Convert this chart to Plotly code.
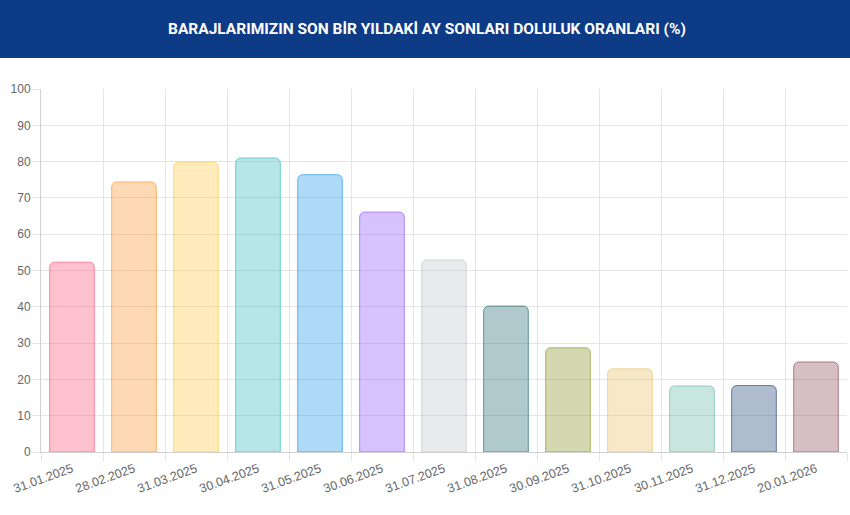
import plotly.graph_objects as go

dates = ["31.01.2025", "28.02.2025", "31.03.2025", "30.04.2025", "31.05.2025",
         "30.06.2025", "31.07.2025", "31.08.2025", "30.09.2025", "31.10.2025",
         "30.11.2025", "31.12.2025", "20.01.2026"]
values = [52.3, 74.4, 79.9, 81.0, 76.4, 66.1, 52.9, 40.2, 28.7, 22.9, 18.2, 18.3, 24.8]
base_colors = [(255, 99, 132), (255, 159, 64), (255, 205, 86), (75, 192, 192),
               (54, 162, 235), (153, 102, 255), (201, 203, 207), (58, 120, 127),
               (145, 157, 58), (235, 200, 117), (117, 192, 170), (55, 87, 130),
               (152, 92, 110)]
y_ticks = [0, 10, 20, 30, 40, 50, 60, 70, 80, 90, 100]
title_text = "BARAJLARIMIZIN SON BİR YILDAKİ AY SONLARI DOLULUK ORANLARI (%)"

fills = ["rgba(%d,%d,%d,0.4)" % c for c in base_colors]
borders = ["rgba(%d,%d,%d,0.75)" % c for c in base_colors]

W, H = 850, 515
top, bottom, left, right = 89, 63, 41, 3
plot_h = H - top - bottom
plot_w = W - left - right

fig = go.Figure(go.Bar(
    x=dates, y=values,
    marker=dict(color=fills, line=dict(color=borders, width=1), cornerradius=5),
    hoverinfo="x+y",
))

def py(px):
    return 1 + (top - px) / plot_h

fig.add_shape(type="rect", xref="paper", yref="paper", x0=-left / plot_w - 0.01,
              x1=1 + right / plot_w + 0.01, y0=py(58), y1=py(0) + 0.01,
              fillcolor="#0e3b86", line=dict(width=0), layer="above")
fig.add_annotation(text="<b>" + title_text + "</b>", xref="paper", yref="paper",
                   x=(427 - left) / plot_w, y=py(29), showarrow=False,
                   xanchor="center", yanchor="middle",
                   font=dict(family="Roboto", size=15.5, color="white"))

fig.update_layout(
    width=W, height=H,
    margin=dict(l=left, r=right, t=top, b=bottom),
    paper_bgcolor="white", plot_bgcolor="white",
    bargap=0.28, showlegend=False,
    font=dict(family="Liberation Sans, Arial", size=12, color="#666"),
)
fig.update_xaxes(
    type="category", tickson="boundaries", showgrid=True, gridcolor="#e5e5e5",
    ticks="outside", ticklen=8, tickcolor="#e5e5e5", tickangle=-20,
    showline=True, linecolor="#d0d0d0", linewidth=1, ticklabelstandoff=4,
    tickfont=dict(size=12.5, color="#666"), fixedrange=True,
)
fig.update_yaxes(
    range=[0, 100], tickvals=y_ticks, showgrid=True, gridcolor="#e5e5e5",
    ticks="outside", ticklen=8, tickcolor="#e5e5e5", zeroline=False,
    showline=True, linecolor="#d0d0d0", linewidth=1, ticklabelstandoff=-1,
    tickfont=dict(size=12, color="#666"), fixedrange=True,
)

fig.write_html("out.html", config={"displayModeBar": False},
               post_script="document.body.style.margin='0';document.body.style.overflow='hidden';")
